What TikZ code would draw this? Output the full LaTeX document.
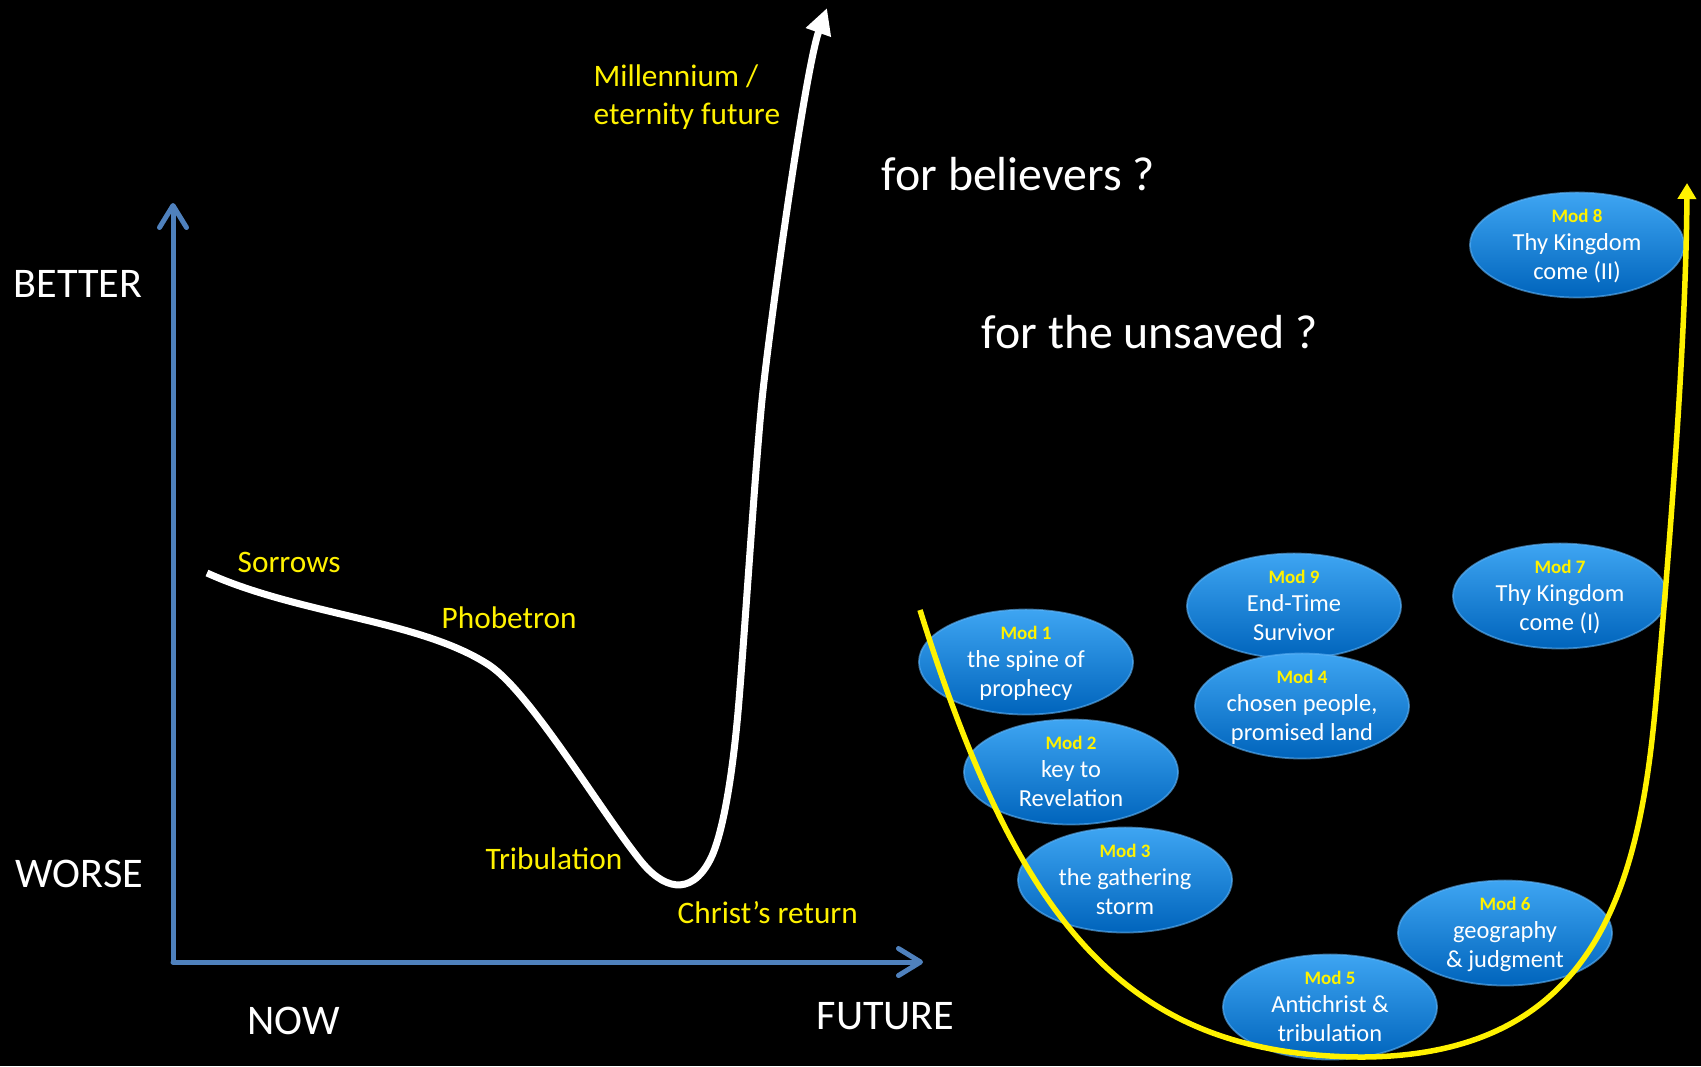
\documentclass[tikz,border=0pt]{standalone}
\usepackage{fontspec}
\setmainfont{Carlito}
\usetikzlibrary{arrows.meta,shapes.geometric}
\definecolor{axisblue}{RGB}{79,129,189}
\definecolor{modtop}{RGB}{62,165,242}
\definecolor{modbot}{RGB}{0,100,188}
\definecolor{modrim}{RGB}{95,180,248}
\newcommand{\modno}[1]{{\color{yellow}\bfseries\fontsize{5.4pt}{8.1pt}\selectfont #1}}

\begin{document}
\begin{tikzpicture}[x=0.01cm, y=-0.01cm,
    axis/.style={axisblue, line width=0.05cm, line cap=round,
      -{Straight Barb[length=0.22cm,width=0.27cm,line join=round,line cap=round]}},
    trend/.style={white, line width=0.07cm, -{Triangle[length=0.26cm,width=0.25cm]}},
    hope/.style={yellow, line width=0.055cm, -{Triangle[length=0.16cm,width=0.18cm]}},
    axislbl/.style={white, inner sep=0, font=\fontsize{12pt}{14pt}\selectfont},
    asklbl/.style={white, inner sep=0, font=\fontsize{13.6pt}{16pt}\selectfont},
    phase/.style={yellow, inner sep=0, font=\fontsize{8.9pt}{10.8pt}\selectfont},
    modell/.style={ellipse, minimum width=2.14cm, minimum height=1.05cm, inner sep=0,
      top color=modtop, bottom color=modbot, draw=modrim, draw opacity=0.6, line width=0.5pt},
    modtxt/.style={white, inner sep=0, align=center, font=\fontsize{6.95pt}{8.1pt}\selectfont}]

    \useasboundingbox (0,0) rectangle (1701,1066);
    \fill[black] (0,0) rectangle (1701,1066);

    % axes
    \coordinate (origin) at (173,962);
    \coordinate (ytip) at (173,203);
    \coordinate (xtip) at (923,962);
    \draw[axis] (origin) -- (ytip);
    \draw[axis] (origin) -- (xtip);

    \node[axislbl, anchor=base west] (better) at (13,297) {BETTER};
    \node[axislbl, anchor=base west] (worse) at (15,887) {WORSE};
    \node[axislbl, anchor=base west] (now) at (247,1034) {NOW};
    \node[axislbl, anchor=base west] (future) at (816,1029) {FUTURE};

    % the way things go
    \draw[trend] (207,573) .. controls (300,615) and (420,620) .. (489,665)
        .. controls (530,692) and (600,810) .. (640,860)
        .. controls (662,888) and (690,898) .. (710,860)
        .. controls (722,837) and (732,780) .. (738,712)
        .. controls (744,644) and (755,470) .. (762,400)
        .. controls (769,330) and (805,70) .. (827,8);

    \node[phase, anchor=base west] (sorrows) at (237,572) {Sorrows};
    \node[phase, anchor=base west] (phobetron) at (441,628) {Phobetron};
    \node[phase, anchor=base west] (tribulation) at (485,869) {Tribulation};
    \node[phase, anchor=base west] (return) at (677,923) {Christ’s return};
    \node[phase, anchor=north west, align=left] (millennium) at (593,59)
        {\strut Millennium /\\eternity future};

    \node[asklbl, anchor=base west] (believers) at (881,190) {for believers ?};
    \node[asklbl, anchor=base west] (unsaved) at (981,348) {for the unsaved ?};

    % modules
    \node[modell] (m1) at (1026,662) {};
    \node[modell] (m2) at (1071,772) {};
    \node[modell] (m3) at (1125,880) {};
    \node[modell] (m9) at (1294,606) {};
    \node[modell] (m4) at (1302,706) {};
    \node[modell] (m5) at (1330,1007) {};
    \node[modell] (m6) at (1505,933) {};
    \node[modell] (m7) at (1560,596) {};
    \node[modell] (m8) at (1577,245) {};

    \node[modtxt] (t1) at (m1) {\strut\modno{Mod 1}\\the spine of\\prophecy\strut};
    \node[modtxt] (t2) at (m2) {\strut\modno{Mod 2}\\key to\\Revelation\strut};
    \node[modtxt] (t3) at (m3) {\strut\modno{Mod 3}\\the gathering\\storm\strut};
    \node[modtxt] (t9) at (m9) {\strut\modno{Mod 9}\\End-Time\\Survivor\strut};
    \node[modtxt] (t4) at (m4) {\strut\modno{Mod 4}\\chosen people,\\promised land\strut};
    \node[modtxt] (t5) at (m5) {\strut\modno{Mod 5}\\Antichrist \&\\tribulation\strut};
    \node[modtxt] (t6) at (m6) {\strut\modno{Mod 6}\\geography\\\& judgment\strut};
    \node[modtxt] (t7) at (m7) {\strut\modno{Mod 7}\\Thy Kingdom\\come (I)\strut};
    \node[modtxt] (t8) at (m8) {\strut\modno{Mod 8}\\Thy Kingdom\\come (II)\strut};

    % the path of the course
    \draw[hope] (920,610) .. controls (1020,930) and (1130,1055) .. (1360,1057)
        .. controls (1600,1057) and (1640,880) .. (1656,700)
        .. controls (1672,520) and (1686,330) .. (1687,183);
\end{tikzpicture}
\end{document}
